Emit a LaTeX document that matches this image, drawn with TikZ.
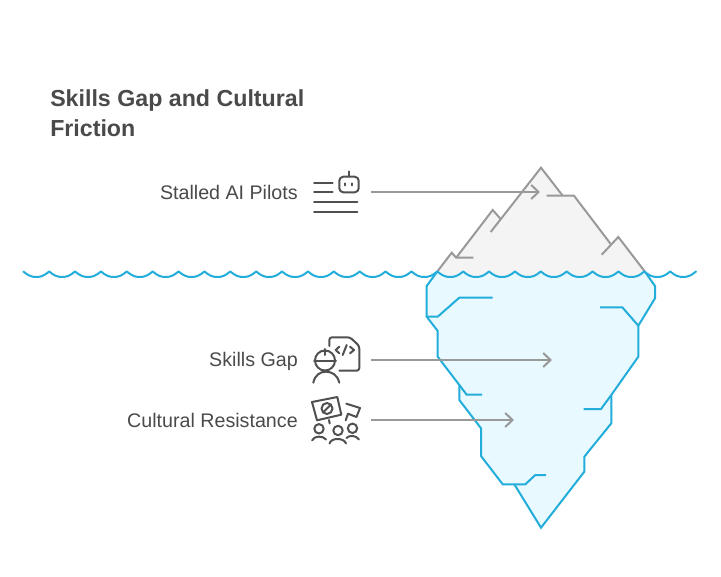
\documentclass[tikz,border=0pt]{standalone}
\usepackage{fontspec}
\setmainfont{Liberation Sans}
\usetikzlibrary{arrows.meta}
\definecolor{wave}{HTML}{22ADDA}
\definecolor{icefill}{HTML}{E8F9FF}
\definecolor{rock}{HTML}{999999}
\definecolor{rockfill}{HTML}{F4F4F4}
\definecolor{ink}{HTML}{4A4A4A}
\definecolor{iconink}{HTML}{505050}
\tikzset{
  x=0.75pt,y=-0.75pt,
  wavy/.style={draw=wave,line width=1.5pt,line join=round,line cap=round},
  icy/.style={draw=wave,line width=1.5pt,line join=miter,line cap=butt},
  rocky/.style={draw=rock,line width=1.5pt,line join=miter,line cap=butt},
  pointer/.style={draw=rock,line width=1.5pt,-{Straight Barb[length=5.5pt,width=10.5pt,line width=1.5pt]}},
  glyph/.style={draw=iconink,line width=1.5pt,line cap=round,line join=round},
  label/.style={text=ink,font=\fontsize{14.75pt}{17pt}\selectfont,anchor=east,inner sep=0pt},
  heading/.style={text=ink,font=\bfseries\fontsize{17.4pt}{22.5pt}\selectfont,anchor=north west,inner sep=0pt,align=left}
}
\newcommand{\wavecell}[1]{.. controls ({#1+5},275.6) and ({#1+8},277) .. ({#1+12.94},277) .. controls ({#1+17.9},277) and ({#1+20.9},275.6) .. ({#1+25.875},271.5)}
\begin{document}
\begin{tikzpicture}
\useasboundingbox (0,0) rectangle (721,577);
% mountain fill
\fill[rockfill] (437.3,271.5) -- (451.7,252.7) -- (455.7,257.7) -- (492.7,210) -- (500.7,219) -- (541,167.7) -- (562.7,195.7) -- (574,195.7) -- (610.7,244) -- (618.3,237) -- (644.3,271.5) -- (644.3,280) -- (437.3,280) -- cycle;
% iceberg fill
\fill[icefill] (437.3,271.5)
  \foreach \k in {16,...,23} { \wavecell{23.3+25.875*\k} }
  -- (655,286) -- (655,298.3) -- (638.3,325.7) -- (638.3,356.7) -- (611.3,395) -- (611.3,423.3) -- (584.3,456.7) -- (584.3,471.7) -- (541,527.7) -- (514.3,484.3) -- (502.7,484.3) -- (481,456) -- (481,428.3) -- (459.3,400) -- (459.3,385) -- (437.7,356.7) -- (437.7,331) -- (426.7,316.7) -- (426.7,286) -- cycle;
% mountain outlines
\draw[rocky] (437.3,271.5) -- (451.7,252.7) -- (456.2,257.7) -- (473.3,257.7);
\draw[rocky] (456.2,257.7) -- (492.7,210) -- (500.7,219);
\draw[rocky] (490.7,232) -- (541,167.7) -- (562.7,195.7);
\draw[rocky] (546.7,195.7) -- (574,195.7) -- (610.7,244);
\draw[rocky] (601.7,254.7) -- (618.3,237) -- (644.8,271.5);
% iceberg outlines
\draw[icy] (437.3,271.5) -- (426.7,286) -- (426.7,316.7) -- (437.7,331) -- (437.7,356.7) -- (459.3,385) -- (459.3,400) -- (481,428.3) -- (481,456) -- (502.7,484.3) -- (525.3,484.3) -- (535.3,475) -- (546,475);
\draw[icy] (514.3,484.3) -- (541,527.7) -- (584.3,471.7) -- (584.3,456.7) -- (611.3,423.3) -- (611.3,395) -- (638.3,356.7) -- (638.3,325.7) -- (655,298.3) -- (655,286) -- (644.8,271.5);
\draw[icy] (426.7,316.7) -- (437.7,316.7) -- (459.3,297.7) -- (492.7,297.7);
\draw[icy] (600,307.3) -- (622.3,307.3) -- (638.3,325.7);
\draw[icy] (459.3,385) -- (466.7,394.7) -- (482,394.7);
\draw[icy] (583.7,409) -- (601,409) -- (611.3,395);
% water line
\draw[wavy] (23.3,271.5)
  \foreach \k in {0,...,25} { \wavecell{23.3+25.875*\k} };
% labels and title
\node[heading] (title) at (50,89.5) {Skills Gap and Cultural\\Friction};
\node[label] (pilots) at (298,192.5) {Stalled AI Pilots};
\node[label] (skills) at (298,361.5) {Skills Gap};
\node[label] (culture) at (298,420.5) {Cultural Resistance};
% connectors
\coordinate (pilotsA) at (371,192);
\coordinate (pilotsB) at (540,192);
\coordinate (skillsA) at (371,360);
\coordinate (skillsB) at (552,360);
\coordinate (cultureA) at (371,420);
\coordinate (cultureB) at (514,420);
\draw[pointer] (pilotsA) -- (pilotsB);
\draw[pointer] (skillsA) -- (skillsB);
\draw[pointer] (cultureA) -- (cultureB);
% robot icon
\draw[glyph,rounded corners=3pt] (339.3,176.7) rectangle (358.7,192.3);
\draw[glyph] (348.5,171.5) -- (348.5,176.7);
\draw[glyph] (345.2,183.3) -- (345.2,185.3);
\draw[glyph] (351.7,183.3) -- (351.7,185.3);
\draw[glyph] (314,183) -- (332.7,183);
\draw[glyph] (314,192.5) -- (332.7,192.5);
\draw[glyph] (314,202.5) -- (357.3,202.5);
\draw[glyph] (314,212) -- (357.3,212);
% engineer icon
\draw[glyph,rounded corners=2pt] (329.3,346) -- (329.3,337.3) -- (350,337.3) -- (359.3,346) -- (359.3,370.7) -- (339.3,370.7);
\draw[glyph] (339.3,346.7) -- (335.7,350) -- (339.3,353.3);
\draw[glyph] (346.7,345) -- (342.7,355);
\draw[glyph] (350,346.7) -- (354,350) -- (350,353.3);
\draw[glyph] (325,360.5) circle[radius=10];
\draw[glyph] (314,360.7) -- (336,360.7);
\draw[glyph] (325,349) -- (325,355);
\draw[glyph] (313.3,382.7) .. controls (315,375) and (320,371.7) .. (326,371.7) .. controls (332,371.7) and (337.5,375) .. (339.3,382.7);
% protest icon
\draw[glyph] (312,402) -- (337.3,397) -- (341.3,414.7) -- (317,420.3) -- cycle;
\draw[glyph] (327,408.5) circle[radius=5.5];
\draw[glyph] (323.2,412.3) -- (330.8,404.7);
\draw[glyph] (329,420) -- (329.7,423.5);
\draw[glyph] (346.3,403.7) -- (360,408) -- (356.5,417) -- (348,413.7) -- (345.7,420.3);
\draw[glyph] (319,428.8) circle[radius=4.7];
\draw[glyph] (338,430.5) circle[radius=4.7];
\draw[glyph] (352.5,428.3) circle[radius=4.7];
\draw[glyph] (312,440.5) .. controls (314,435.5) and (323,435.5) .. (326,439.5);
\draw[glyph] (329.5,443.5) .. controls (331,437.5) and (344,437.5) .. (346,443.5);
\draw[glyph] (346.5,438) .. controls (349,435) and (356,435) .. (359,439.5);
\end{tikzpicture}
\end{document}
